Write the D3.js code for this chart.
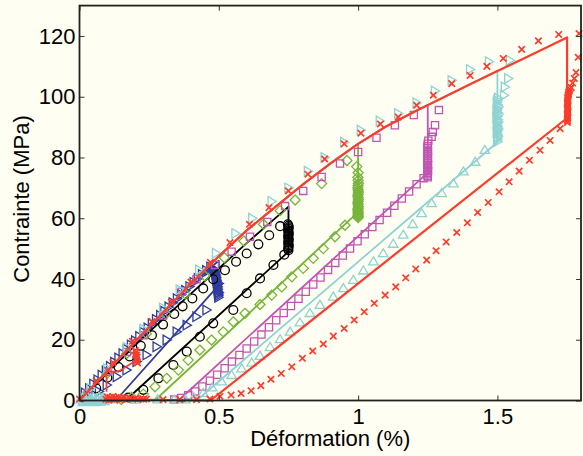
<!DOCTYPE html>
<html><head><meta charset="utf-8">
<script src="https://cdn.jsdelivr.net/npm/d3@7"></script>
<style>html,body{margin:0;padding:0;background:#fffef2;}svg{display:block;font-family:"Liberation Sans",Arial,sans-serif;}</style>
</head><body><svg id="c" width="583" height="456"></svg>
<script>
// ---------- data ----------
const xTicks = [0, 0.5, 1, 1.5];
const yTicks = [0, 20, 40, 60, 80, 100, 120];
const xLabel = "Déformation (%)";
const yLabel = "Contrainte (MPa)";

// model loading envelope
const envX = [0,0.1,0.2,0.3,0.4,0.5,0.6,0.7,0.8,0.9,1.0,1.1,1.2,1.3,1.4,1.5,1.6,1.75];
const envY = [0,9.7,19.4,29,38.5,47.5,56,63.5,71,78,84.5,90.2,95,99.5,104,108.5,112.8,119.5];

// model cycles: peak strain, peak stress, relaxed stress, residual strain
const seriesNames = ["blue","black","green","magenta","cyan","red"];
const peakX  = [0.5, 0.75, 1.0, 1.25, 1.5, 1.75];
const peakY  = [46, 63.8, 84.5, 97.3, 108.5, 119.5];
const relaxY = [38, 49, 62, 75, 85, 93];
const zeroX  = [0.13, 0.165, 0.27, 0.355, 0.42, 0.47];
// black model loading (lies a bit under the envelope)
const blackLoadX = [0,0.1,0.2,0.3,0.4,0.5,0.6,0.7,0.75];
const blackLoadY = [0,9.2,18.2,26.8,35.2,43.5,51.8,59.8,63.8];
// red model return along zero stress
const redReturnX = [0.47, 0.1];
const redReturnY = [0, 0.4];
// red model first small cycle
const redCycleX = [0.205, 0.2, 0.139, 0.097, 0.097];
const redCycleY = [14.5, 13, 9.5, 9.5, 2.9];

// experimental markers
const blueLoadX = [0.02,0.035,0.05,0.065,0.08,0.095,0.11,0.125,0.14,0.155,0.17,0.185,0.2,0.215,0.23,0.245,0.26,0.275,0.29,0.305,0.32,0.335,0.35,0.365,0.38,0.395,0.41,0.425,0.44,0.455,0.47];
const blueLoadY = [2.5,3.9,5.4,6.8,8.3,9.7,11.2,12.6,14,15.4,16.9,18.3,19.7,21.1,22.5,23.9,25.3,26.7,28,29.4,30.8,32.2,33.5,34.9,36.2,37.5,38.9,40.2,41.5,42.8,44];
const blueBlobX = [0.478,0.482,0.485,0.487,0.488,0.49,0.49,0.491,0.492,0.493,0.494,0.494,0.495,0.496,0.496,0.497,0.497,0.498,0.498,0.499,0.5,0.5];
const blueBlobY = [43.5,43,42.5,42,41.5,41,40.5,40,39.5,39,38.5,38,37.5,37,36.5,36,35.5,35,34.5,34,35.5,38.5];
const blueUnX = [0.456,0.42,0.385,0.349,0.313,0.277,0.241,0.205,0.169,0.134,0.098,0.07,0.05];
const blueUnY = [29.8,27.6,24.8,22.6,19.9,17.7,15,12.8,10,7.8,5.1,3,1.5];

const blackLoadMX = [0.02,0.06,0.1,0.14,0.18,0.22,0.26,0.3,0.34,0.37,0.405,0.444,0.48,0.522,0.562,0.6,0.642,0.681,0.72];
const blackLoadMY = [0.5,4,7.5,11,14.5,18,21.5,25,28.5,31,33.6,36.9,39.9,42.9,45.7,48.4,51.4,54.4,57.4];
const blackBlobX = [0.748,0.75,0.751,0.75,0.749,0.75,0.751,0.75,0.749,0.75,0.751,0.75,0.749,0.75,0.751,0.75,0.749,0.75];
const blackBlobY = [58,57.5,57,56.5,56,55.5,55,54.5,54,53.5,53,52.5,52,51.5,51,50.5,50,49.5];
const blackUnX = [0.735,0.696,0.648,0.6,0.552,0.48,0.432,0.385,0.337,0.283,0.229,0.175];
const blackUnY = [48,44.6,40.2,35.3,29.8,25.4,21,16.1,11.7,7.3,3.5,1];

const greenLoadX = [0.03,0.1,0.17,0.24,0.31,0.38,0.45,0.52,0.59,0.66,0.72,0.774,0.869,0.96,0.995,1.0];
const greenLoadY = [2.5,9,15.5,22,28.5,35,41,47,52.5,58,62.5,66,71.4,79,77,75];
const greenBlobX = [0.999,1.0,1.001,1.0,0.999,1.0,1.001,1.0,0.999,1.0,1.001,1.0,0.999,1.0,1.001,1.0,0.999,1.0,1.0,1.0,1.0,1.0,1.0];
const greenBlobY = [73.5,72.5,71.5,70.8,70,69.3,68.6,68,67.4,66.8,66.2,65.6,65,64.4,63.8,63.3,62.8,62.3,61.8,61.4,61,60.6,60.2];
const greenUnX = [0.953,0.917,0.875,0.839,0.803,0.762,0.726,0.69,0.648,0.594,0.552,0.516,0.474,0.432,0.39,0.355,0.313,0.271,0.229,0.187,0.15];
const greenUnY = [57.7,53.9,50,46.8,43.5,40.7,37.4,34.7,31.6,28.7,25.9,22.6,19.9,16.6,13.3,10,7.3,4.5,2.1,1,0.3];

const magLoadX = [0.03,0.1,0.17,0.23,0.3,0.367,0.42,0.486,0.546,0.612,0.674,0.738,0.803,0.869,0.935,1.0,1.066,1.132,1.2,1.29,1.276,1.268,1.264];
const magLoadY = [2.5,9.5,16,21.5,28,35.8,39.9,44.6,49,53.9,58.8,64,69,73.6,78,81.8,86.5,90.6,94,95.6,90.6,88.4,86.8];
const magBlobX = [1.252,1.25,1.249,1.25,1.251,1.25,1.249,1.25,1.251,1.25,1.249,1.25,1.251,1.25,1.249,1.25,1.251,1.25,1.249,1.25,1.25];
const magBlobY = [85.5,84.5,83.7,83,82.3,81.7,81.1,80.5,79.9,79.3,78.7,78.1,77.5,77,76.5,76,75.5,75,74.5,74,73.5];
const magUnX = [1.235,1.21,1.183,1.157,1.13,1.104,1.077,1.051,1.024,0.998,0.971,0.945,0.918,0.892,0.865,0.839,0.812,0.786,0.759,0.733,0.706,0.68,0.653,0.627,0.6,0.574,0.547,0.521,0.494,0.468,0.441,0.415,0.39,0.365,0.34];
const magUnY = [73.2,71.2,68.8,66.5,64.1,61.8,59.4,57.1,54.7,52.4,50,47.7,45.3,43,40.5,38.2,35.8,33.5,31.1,28.8,26.4,24.1,21.7,19.4,17.1,15,12.8,10.6,8.5,6.5,4.6,3,1.7,0.8,0.3];

const cyanLoadX = [0.04,0.1,0.17,0.23,0.3,0.36,0.43,0.49,0.56,0.62,0.69,0.75,0.82,0.88,0.95,1.01,1.078,1.144,1.21,1.276,1.336,1.402,1.47,1.545,1.539,1.527,1.524];
const cyanLoadY = [4,10.5,17.5,23.5,30.5,36.5,43,48.5,55,60,65.5,70,75.5,80,85,89,92,94.5,98,101.9,105.4,109,111.5,112,106,103.2,100.5];
const cyanBlobX = [1.503,1.5,1.498,1.501,1.504,1.5,1.497,1.501,1.504,1.5,1.497,1.501,1.503,1.5,1.498,1.501,1.503,1.5,1.498,1.5,1.502,1.5,1.499,1.5];
const cyanBlobY = [99.5,98.8,98.1,97.4,96.7,96,95.4,94.8,94.2,93.6,93,92.4,91.8,91.2,90.6,90,89.4,88.8,88.2,87.6,87,86.4,85.8,85.2];
const cyanUnX = [1.455,1.42,1.378,1.342,1.3,1.264,1.228,1.196,1.162,1.126,1.09,1.055,1.019,0.983,0.947,0.911,0.863,0.827,0.791,0.756,0.72,0.684,0.648,0.618,0.582,0.546,0.51,0.476,0.444,0.41,0.38];
const cyanUnY = [82.4,78.5,75.3,71.4,68.2,64.9,61.6,58,54.5,51.5,48.4,45.7,42.7,39.6,36.9,34.1,31.4,28.7,25.6,22.6,20.1,17.5,14.6,12.4,10.5,8.3,6.2,4.2,2.4,1,0.3];
const cyanZeroX = [0.005,0.01,0.015,0.02,0.025,0.03,0.035,0.04,0.045,0.05,0.055,0.06,0.065,0.07,0.075,0.08,0.085,0.09,0.012,0.032,0.052,0.072,0.088,0.12,0.2,0.28,0.34];
const cyanZeroY = [0.3,1,-0.4,0.8,0.1,1.1,-0.3,0.6,0.2,1,-0.4,0.7,0.2,1.1,-0.2,0.5,0.9,0.2,-0.6,-0.5,-0.6,-0.5,-0.3,0.3,0.2,0.3,0.2];

const redLoadX = [0.0,0.06,0.12,0.19,0.26,0.33,0.40,0.47,0.54,0.61,0.68,0.75,0.82,0.88,0.95,1.01,1.08,1.144,1.21,1.27,1.336,1.402,1.462,1.521,1.587,1.647,1.72,1.793,1.79,1.782,1.776,1.77,1.765];
const redLoadY = [0.5,6.5,12.5,19.5,26,32.5,39,45.5,52,58,63.5,69,74.5,79.5,84.5,88,91,93.3,97.2,100.5,104.3,107,110,112.6,115.6,118.4,120.5,120.8,113,108,106,104.5,103];
const redBlobX = [1.76,1.758,1.756,1.755,1.754,1.753,1.752,1.753,1.752,1.751,1.752,1.753,1.752,1.751,1.752,1.753,1.752,1.751,1.752,1.752,1.751,1.752,1.751];
const redBlobY = [102.5,102,101.5,101,100.5,100,99.5,99,98.5,98,97.5,97,96.5,96,95.5,95,94.5,94,93.5,93,92.5,92,91.5];
const redUnX = [1.725,1.689,1.653,1.615,1.578,1.542,1.506,1.467,1.429,1.392,1.354,1.316,1.28,1.246,1.207,1.171,1.135,1.097,1.058,1.022,0.986,0.95,0.911,0.875,0.837,0.8,0.762,0.724,0.687,0.651,0.616,0.58,0.544,0.504,0.468];
const redUnY = [89.5,85.6,82.4,79.1,75.5,72,68.7,65.2,61.9,58.5,55.3,52.2,49.3,46.2,43.3,40.4,37.4,34.7,32,29.2,26.5,23.7,21.2,18.6,16.3,13.9,11.1,8.9,7,4.9,3.2,2.3,1.8,1.4,0.5];
const redZeroX = [0.095,0.1,0.105,0.11,0.115,0.12,0.125,0.13,0.135,0.14,0.145,0.15,0.155,0.16,0.17,0.18,0.19,0.2,0.21,0.22,0.23,0.24,0.3,0.36,0.42];
const redZeroY = [0.4,1.2,0.2,1,0.5,1.3,0.3,0.9,0.6,1.2,0.2,0.8,0.5,1,0.4,0.8,0.5,0.7,0.4,0.6,0.4,0.5,0.3,0.3,0.3];
const redCycleMX = [0.2,0.203,0.205,0.207,0.204,0.206,0.208];
const redCycleMY = [16.5,15.8,15,14.3,13.6,13,12.4];

// ---------- drawing ----------
const W = 583, H = 456;
const FONT = '"Liberation Sans",Arial,sans-serif';
const svg = d3.select("#c");
svg.append("rect").attr("width", W).attr("height", H).attr("fill", "#fffef2");
const x = d3.scaleLinear().domain([0, 1.8]).range([79.5, 581]);
const y = d3.scaleLinear().domain([0, 130]).range([400.5, 5.6]);
const colors = {blue:"#2f3c9c", black:"#000000", green:"#76b43a", magenta:"#c155b3", cyan:"#8ed2d2", red:"#fa3c2c"};

const plot = svg.append("g");
const line = d3.line().x(d => x(d[0])).y(d => y(d[1]));

function shapePath(type) {
  switch (type) {
    case "square": return "M-3.6,-3.6H3.6V3.6H-3.6Z";
    case "diamond": return "M0,-5L5,0L0,5L-5,0Z";
    case "right": return "M-3.6,-4.8L-3.6,4.8L4.6,0Z";
    case "up": return "M-4.8,3.2L4.8,3.2L0,-4.8Z";
    case "x": return "M-3.2,-3.2L3.2,3.2M-3.2,3.2L3.2,-3.2";
  }
}
function markers(xs, ys, type, color) {
  const pts = d3.zip(xs, ys);
  const g = plot.append("g");
  if (type === "circle") {
    g.selectAll("circle").data(pts).join("circle")
      .attr("cx", d => x(d[0])).attr("cy", d => y(d[1])).attr("r", 4.4)
      .attr("fill", "none").attr("stroke", color).attr("stroke-width", 1.3);
  } else {
    g.selectAll("path").data(pts).join("path")
      .attr("transform", d => `translate(${x(d[0])},${y(d[1])})`)
      .attr("d", shapePath(type))
      .attr("fill", "none").attr("stroke", color)
      .attr("stroke-width", type === "x" ? 1.7 : 1.3);
  }
}
function modelPath(i) {
  const pts = [];
  if (seriesNames[i] === "black") {
    d3.zip(blackLoadX, blackLoadY).forEach(p => pts.push(p));
  } else {
    d3.zip(envX, envY).filter(p => p[0] < peakX[i]).forEach(p => pts.push(p));
    pts.push([peakX[i], peakY[i]]);
  }
  pts.push([peakX[i], relaxY[i]]);
  pts.push([zeroX[i], 0]);
  if (seriesNames[i] === "red") d3.zip(redReturnX, redReturnY).forEach(p => pts.push(p));
  return pts;
}
function model(i, w) {
  plot.append("path").datum(modelPath(i)).attr("d", line)
    .attr("fill", "none").attr("stroke", colors[seriesNames[i]])
    .attr("stroke-width", w).attr("stroke-linejoin", "round");
}

// blue
markers(blueLoadX, blueLoadY, "right", colors.blue);
markers(blueBlobX, blueBlobY, "right", colors.blue);
markers(blueUnX, blueUnY, "right", colors.blue);
model(0, 1.8);
// black
markers(blackLoadMX, blackLoadMY, "circle", colors.black);
markers(blackBlobX, blackBlobY, "circle", colors.black);
markers(blackUnX, blackUnY, "circle", colors.black);
model(1, 1.8);
// green
markers(greenLoadX, greenLoadY, "diamond", colors.green);
markers(greenBlobX, greenBlobY, "diamond", colors.green);
markers(greenUnX, greenUnY, "diamond", colors.green);
model(2, 1.8);
// magenta
markers(magLoadX, magLoadY, "square", colors.magenta);
markers(magBlobX, magBlobY, "square", colors.magenta);
markers(magUnX, magUnY, "square", colors.magenta);
model(3, 1.8);
// cyan
markers(cyanLoadX, cyanLoadY, "right", colors.cyan);
markers(cyanBlobX, cyanBlobY, "right", colors.cyan);
markers(cyanUnX, cyanUnY, "up", colors.cyan);
markers(cyanZeroX, cyanZeroY, "up", colors.cyan);
model(4, 1.8);
// red
markers(redLoadX, redLoadY, "x", colors.red);
markers(redBlobX, redBlobY, "x", colors.red);
markers(redUnX, redUnY, "x", colors.red);
markers(redZeroX, redZeroY, "x", colors.red);
markers(redCycleMX, redCycleMY, "x", colors.red);
model(5, 2.2);
plot.append("path").datum(d3.zip(redCycleX, redCycleY)).attr("d", line)
  .attr("fill", "none").attr("stroke", colors.red).attr("stroke-width", 1.8);

// axes
const axG = svg.append("g");
const xAxis = d3.axisBottom(x).tickValues(xTicks).tickSize(-5).tickPadding(8).tickFormat(d3.format(""));
const gx = axG.append("g").attr("transform", `translate(0,${y(0)})`).call(xAxis);
const yAxis = d3.axisLeft(y).tickValues(yTicks).tickSize(-5).tickPadding(4).tickFormat(d3.format(""));
const gy = axG.append("g").attr("transform", `translate(${x(0)},0)`).call(yAxis);
const gt = axG.append("g").attr("transform", `translate(0,${y(130)})`).call(d3.axisTop(x).tickValues(xTicks).tickSize(-5).tickFormat(""));
const gr = axG.append("g").attr("transform", `translate(${x(1.8)},0)`).call(d3.axisRight(y).tickValues(yTicks).tickSize(-5).tickFormat(""));
[gx, gy, gt, gr].forEach(g => {
  g.attr("font-family", FONT).attr("font-size", 22);
  g.select(".domain").remove();
  g.selectAll(".tick line").attr("stroke", "#333").attr("stroke-width", 1);
  g.selectAll("text").attr("fill", "#000");
});
axG.append("rect").attr("x", x(0)).attr("y", y(130)).attr("width", x(1.8) - x(0)).attr("height", y(0) - y(130))
  .attr("fill", "none").attr("stroke", "#222").attr("stroke-width", 1.8);

svg.append("text").attr("x", (x(0) + x(1.8)) / 2).attr("y", 446).attr("text-anchor", "middle")
  .attr("font-family", FONT).attr("font-size", 22).text(xLabel);
svg.append("text").attr("transform", "translate(29,199) rotate(-90)").attr("text-anchor", "middle")
  .attr("font-family", FONT).attr("font-size", 22).text(yLabel);
</script></body></html>
